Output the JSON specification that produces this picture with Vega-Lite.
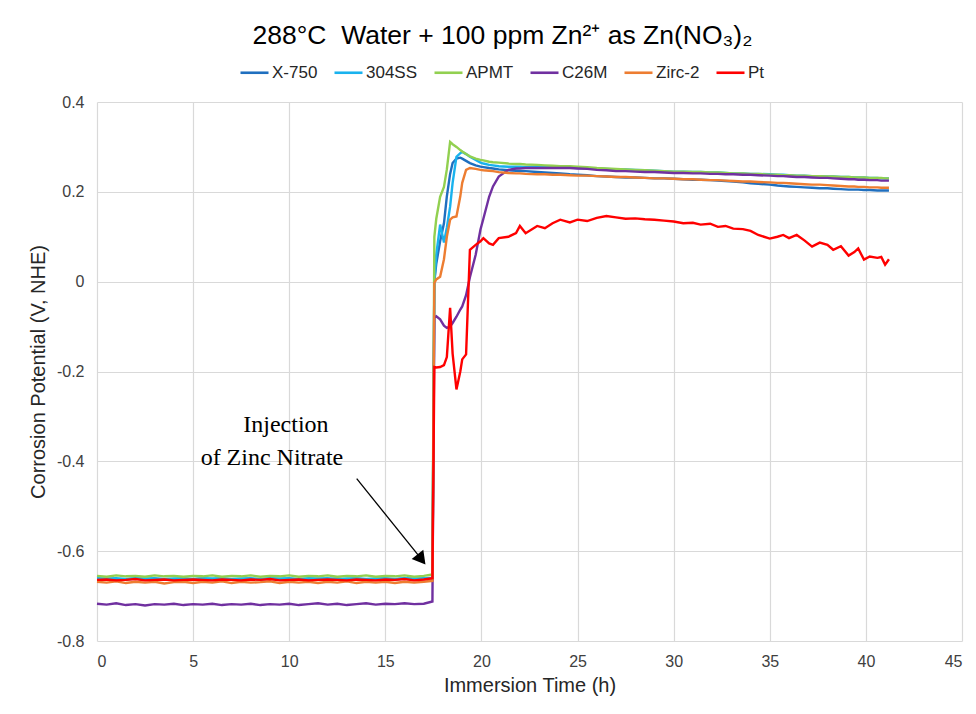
{
  "$schema": "https://vega.github.io/schema/vega-lite/v6.json",
  "width": 865,
  "height": 539,
  "autosize": {"type": "none"},
  "padding": {"left": 97, "top": 102, "right": 14, "bottom": 73},
  "background": "white",
  "title": {
    "text": "288°C\u00a0\u00a0Water + 100 ppm Zn²⁺ as Zn(NO₃)₂",
    "font": "Liberation Sans",
    "fontSize": 26.5,
    "fontWeight": "normal",
    "color": "#000000",
    "anchor": "middle",
    "frame": "group",
    "dx": -27,
    "offset": 8
  },
  "config": {
    "view": {"stroke": null},
    "axis": {
      "labelFont": "Liberation Sans",
      "titleFont": "Liberation Sans",
      "labelFontSize": 16,
      "titleFontSize": 20,
      "titleFontWeight": "normal",
      "labelColor": "#404040",
      "titleColor": "#262626",
      "gridColor": "#D9D9D9",
      "gridWidth": 1.2,
      "domain": false,
      "ticks": false
    }
  },
  "layer": [
    {
      "data": {
        "values": [
          {"t": 0, "X-750": -0.663, "304SS": -0.660, "APMT": -0.655, "C26M": -0.717, "Zirc-2": -0.668, "Pt": -0.664},
          {"t": 0.5, "X-750": -0.662, "304SS": -0.661, "APMT": -0.657, "C26M": -0.719, "Zirc-2": -0.670, "Pt": -0.663},
          {"t": 1.0, "X-750": -0.664, "304SS": -0.660, "APMT": -0.654, "C26M": -0.716, "Zirc-2": -0.667, "Pt": -0.665},
          {"t": 1.5, "X-750": -0.663, "304SS": -0.662, "APMT": -0.656, "C26M": -0.720, "Zirc-2": -0.671, "Pt": -0.664},
          {"t": 2.0, "X-750": -0.661, "304SS": -0.660, "APMT": -0.655, "C26M": -0.718, "Zirc-2": -0.668, "Pt": -0.662},
          {"t": 2.5, "X-750": -0.664, "304SS": -0.661, "APMT": -0.657, "C26M": -0.721, "Zirc-2": -0.670, "Pt": -0.665},
          {"t": 3.0, "X-750": -0.662, "304SS": -0.660, "APMT": -0.654, "C26M": -0.718, "Zirc-2": -0.668, "Pt": -0.664},
          {"t": 3.5, "X-750": -0.663, "304SS": -0.662, "APMT": -0.656, "C26M": -0.719, "Zirc-2": -0.672, "Pt": -0.663},
          {"t": 4.0, "X-750": -0.664, "304SS": -0.661, "APMT": -0.655, "C26M": -0.717, "Zirc-2": -0.669, "Pt": -0.665},
          {"t": 4.5, "X-750": -0.662, "304SS": -0.660, "APMT": -0.657, "C26M": -0.720, "Zirc-2": -0.668, "Pt": -0.664},
          {"t": 5.0, "X-750": -0.663, "304SS": -0.662, "APMT": -0.655, "C26M": -0.718, "Zirc-2": -0.671, "Pt": -0.663},
          {"t": 5.5, "X-750": -0.661, "304SS": -0.660, "APMT": -0.656, "C26M": -0.719, "Zirc-2": -0.668, "Pt": -0.664},
          {"t": 6.0, "X-750": -0.664, "304SS": -0.661, "APMT": -0.654, "C26M": -0.717, "Zirc-2": -0.670, "Pt": -0.665},
          {"t": 6.5, "X-750": -0.662, "304SS": -0.660, "APMT": -0.657, "C26M": -0.720, "Zirc-2": -0.667, "Pt": -0.663},
          {"t": 7.0, "X-750": -0.663, "304SS": -0.662, "APMT": -0.655, "C26M": -0.718, "Zirc-2": -0.671, "Pt": -0.664},
          {"t": 7.5, "X-750": -0.664, "304SS": -0.661, "APMT": -0.656, "C26M": -0.719, "Zirc-2": -0.668, "Pt": -0.665},
          {"t": 8.0, "X-750": -0.662, "304SS": -0.660, "APMT": -0.654, "C26M": -0.717, "Zirc-2": -0.670, "Pt": -0.663},
          {"t": 8.5, "X-750": -0.663, "304SS": -0.662, "APMT": -0.657, "C26M": -0.720, "Zirc-2": -0.669, "Pt": -0.664},
          {"t": 9.0, "X-750": -0.661, "304SS": -0.660, "APMT": -0.655, "C26M": -0.718, "Zirc-2": -0.667, "Pt": -0.662},
          {"t": 9.5, "X-750": -0.664, "304SS": -0.661, "APMT": -0.656, "C26M": -0.719, "Zirc-2": -0.671, "Pt": -0.665},
          {"t": 10.0, "X-750": -0.662, "304SS": -0.660, "APMT": -0.654, "C26M": -0.717, "Zirc-2": -0.668, "Pt": -0.664},
          {"t": 10.5, "X-750": -0.663, "304SS": -0.662, "APMT": -0.657, "C26M": -0.720, "Zirc-2": -0.670, "Pt": -0.663},
          {"t": 11.0, "X-750": -0.664, "304SS": -0.660, "APMT": -0.655, "C26M": -0.718, "Zirc-2": -0.668, "Pt": -0.665},
          {"t": 11.5, "X-750": -0.662, "304SS": -0.661, "APMT": -0.656, "C26M": -0.716, "Zirc-2": -0.671, "Pt": -0.664},
          {"t": 12.0, "X-750": -0.663, "304SS": -0.660, "APMT": -0.654, "C26M": -0.719, "Zirc-2": -0.668, "Pt": -0.663},
          {"t": 12.5, "X-750": -0.661, "304SS": -0.662, "APMT": -0.657, "C26M": -0.717, "Zirc-2": -0.670, "Pt": -0.664},
          {"t": 13.0, "X-750": -0.664, "304SS": -0.661, "APMT": -0.655, "C26M": -0.720, "Zirc-2": -0.667, "Pt": -0.665},
          {"t": 13.5, "X-750": -0.662, "304SS": -0.660, "APMT": -0.656, "C26M": -0.718, "Zirc-2": -0.671, "Pt": -0.663},
          {"t": 14.0, "X-750": -0.663, "304SS": -0.662, "APMT": -0.654, "C26M": -0.716, "Zirc-2": -0.668, "Pt": -0.664},
          {"t": 14.5, "X-750": -0.664, "304SS": -0.661, "APMT": -0.657, "C26M": -0.719, "Zirc-2": -0.670, "Pt": -0.665},
          {"t": 15.0, "X-750": -0.662, "304SS": -0.660, "APMT": -0.655, "C26M": -0.717, "Zirc-2": -0.668, "Pt": -0.663},
          {"t": 15.5, "X-750": -0.663, "304SS": -0.662, "APMT": -0.656, "C26M": -0.718, "Zirc-2": -0.671, "Pt": -0.664},
          {"t": 16.0, "X-750": -0.661, "304SS": -0.660, "APMT": -0.654, "C26M": -0.716, "Zirc-2": -0.668, "Pt": -0.662},
          {"t": 16.5, "X-750": -0.664, "304SS": -0.661, "APMT": -0.657, "C26M": -0.718, "Zirc-2": -0.670, "Pt": -0.665},
          {"t": 17.0, "X-750": -0.662, "304SS": -0.660, "APMT": -0.655, "C26M": -0.717, "Zirc-2": -0.668, "Pt": -0.663},
          {"t": 17.45, "X-750": -0.660, "304SS": -0.659, "APMT": -0.652, "C26M": -0.712, "Zirc-2": -0.666, "Pt": -0.660},
          {"t": 17.55, "X-750": 0.000, "304SS": 0.000, "APMT": 0.100, "C26M": -0.080, "Zirc-2": -0.003, "Pt": -0.190},
          {"t": 17.65, "X-750": 0.040, "304SS": 0.060, "APMT": 0.140, "C26M": -0.077, "Zirc-2": 0.005, "Pt": -0.191},
          {"t": 17.85, "X-750": 0.090, "304SS": 0.127, "APMT": 0.189, "C26M": -0.084, "Zirc-2": 0.011, "Pt": -0.190},
          {"t": 18.05, "X-750": 0.130, "304SS": 0.087, "APMT": 0.211, "C26M": -0.098, "Zirc-2": 0.050, "Pt": -0.186},
          {"t": 18.2, "X-750": 0.190, "304SS": 0.120, "APMT": 0.250, "C26M": -0.103, "Zirc-2": 0.100, "Pt": -0.168},
          {"t": 18.37, "X-750": 0.240, "304SS": 0.167, "APMT": 0.311, "C26M": -0.100, "Zirc-2": 0.138, "Pt": -0.058},
          {"t": 18.5, "X-750": 0.264, "304SS": 0.220, "APMT": 0.306, "C26M": -0.092, "Zirc-2": 0.143, "Pt": -0.160},
          {"t": 18.7, "X-750": 0.274, "304SS": 0.278, "APMT": 0.300, "C26M": -0.078, "Zirc-2": 0.145, "Pt": -0.240},
          {"t": 18.9, "X-750": 0.276, "304SS": 0.286, "APMT": 0.293, "C26M": -0.062, "Zirc-2": 0.190, "Pt": -0.200},
          {"t": 19.0, "X-750": 0.274, "304SS": 0.289, "APMT": 0.290, "C26M": -0.055, "Zirc-2": 0.220, "Pt": -0.173},
          {"t": 19.2, "X-750": 0.269, "304SS": 0.284, "APMT": 0.284, "C26M": -0.030, "Zirc-2": 0.249, "Pt": -0.162},
          {"t": 19.4, "X-750": 0.264, "304SS": 0.278, "APMT": 0.279, "C26M": 0.010, "Zirc-2": 0.253, "Pt": 0.071},
          {"t": 19.7, "X-750": 0.259, "304SS": 0.271, "APMT": 0.274, "C26M": 0.060, "Zirc-2": 0.251, "Pt": 0.082},
          {"t": 19.95, "X-750": 0.256, "304SS": 0.265, "APMT": 0.271, "C26M": 0.116, "Zirc-2": 0.249, "Pt": 0.090},
          {"t": 20.1, "X-750": 0.255, "304SS": 0.263, "APMT": 0.270, "C26M": 0.140, "Zirc-2": 0.248, "Pt": 0.097},
          {"t": 20.4, "X-750": 0.253, "304SS": 0.260, "APMT": 0.267, "C26M": 0.189, "Zirc-2": 0.247, "Pt": 0.085},
          {"t": 20.6, "X-750": 0.252, "304SS": 0.259, "APMT": 0.266, "C26M": 0.212, "Zirc-2": 0.246, "Pt": 0.082},
          {"t": 20.9, "X-750": 0.250, "304SS": 0.257, "APMT": 0.265, "C26M": 0.234, "Zirc-2": 0.244, "Pt": 0.097},
          {"t": 21.4, "X-750": 0.248, "304SS": 0.256, "APMT": 0.263, "C26M": 0.249, "Zirc-2": 0.242, "Pt": 0.100},
          {"t": 21.8, "X-750": 0.247, "304SS": 0.256, "APMT": 0.262, "C26M": 0.252, "Zirc-2": 0.241, "Pt": 0.108},
          {"t": 22.0, "X-750": 0.246, "304SS": 0.256, "APMT": 0.262, "C26M": 0.252, "Zirc-2": 0.241, "Pt": 0.124},
          {"t": 22.3, "X-750": 0.246, "304SS": 0.255, "APMT": 0.261, "C26M": 0.253, "Zirc-2": 0.240, "Pt": 0.108},
          {"t": 22.9, "X-750": 0.244, "304SS": 0.256, "APMT": 0.260, "C26M": 0.253, "Zirc-2": 0.239, "Pt": 0.124},
          {"t": 23.3, "X-750": 0.243, "304SS": 0.255, "APMT": 0.259, "C26M": 0.253, "Zirc-2": 0.239, "Pt": 0.119},
          {"t": 23.7, "X-750": 0.242, "304SS": 0.255, "APMT": 0.258, "C26M": 0.253, "Zirc-2": 0.238, "Pt": 0.130},
          {"t": 24.1, "X-750": 0.241, "304SS": 0.254, "APMT": 0.257, "C26M": 0.253, "Zirc-2": 0.238, "Pt": 0.138},
          {"t": 24.6, "X-750": 0.239, "304SS": 0.254, "APMT": 0.257, "C26M": 0.253, "Zirc-2": 0.237, "Pt": 0.132},
          {"t": 25.0, "X-750": 0.238, "304SS": 0.253, "APMT": 0.256, "C26M": 0.252, "Zirc-2": 0.236, "Pt": 0.138},
          {"t": 25.5, "X-750": 0.237, "304SS": 0.253, "APMT": 0.255, "C26M": 0.251, "Zirc-2": 0.236, "Pt": 0.135},
          {"t": 26.0, "X-750": 0.235, "304SS": 0.252, "APMT": 0.253, "C26M": 0.249, "Zirc-2": 0.235, "Pt": 0.142},
          {"t": 26.5, "X-750": 0.234, "304SS": 0.251, "APMT": 0.252, "C26M": 0.248, "Zirc-2": 0.234, "Pt": 0.146},
          {"t": 27.0, "X-750": 0.233, "304SS": 0.250, "APMT": 0.251, "C26M": 0.246, "Zirc-2": 0.233, "Pt": 0.143},
          {"t": 27.5, "X-750": 0.232, "304SS": 0.250, "APMT": 0.250, "C26M": 0.246, "Zirc-2": 0.233, "Pt": 0.140},
          {"t": 28.0, "X-750": 0.232, "304SS": 0.249, "APMT": 0.249, "C26M": 0.245, "Zirc-2": 0.232, "Pt": 0.141},
          {"t": 28.5, "X-750": 0.231, "304SS": 0.248, "APMT": 0.248, "C26M": 0.244, "Zirc-2": 0.231, "Pt": 0.139},
          {"t": 29.0, "X-750": 0.230, "304SS": 0.247, "APMT": 0.247, "C26M": 0.244, "Zirc-2": 0.230, "Pt": 0.138},
          {"t": 29.5, "X-750": 0.230, "304SS": 0.246, "APMT": 0.246, "C26M": 0.243, "Zirc-2": 0.230, "Pt": 0.136},
          {"t": 30.0, "X-750": 0.229, "304SS": 0.245, "APMT": 0.245, "C26M": 0.242, "Zirc-2": 0.229, "Pt": 0.134},
          {"t": 30.5, "X-750": 0.228, "304SS": 0.245, "APMT": 0.245, "C26M": 0.242, "Zirc-2": 0.228, "Pt": 0.130},
          {"t": 31.0, "X-750": 0.227, "304SS": 0.244, "APMT": 0.244, "C26M": 0.241, "Zirc-2": 0.228, "Pt": 0.131},
          {"t": 31.4, "X-750": 0.227, "304SS": 0.244, "APMT": 0.244, "C26M": 0.241, "Zirc-2": 0.227, "Pt": 0.127},
          {"t": 31.9, "X-750": 0.226, "304SS": 0.243, "APMT": 0.243, "C26M": 0.240, "Zirc-2": 0.226, "Pt": 0.129},
          {"t": 32.3, "X-750": 0.225, "304SS": 0.243, "APMT": 0.243, "C26M": 0.240, "Zirc-2": 0.226, "Pt": 0.122},
          {"t": 32.7, "X-750": 0.224, "304SS": 0.242, "APMT": 0.242, "C26M": 0.239, "Zirc-2": 0.225, "Pt": 0.124},
          {"t": 33.1, "X-750": 0.223, "304SS": 0.241, "APMT": 0.241, "C26M": 0.239, "Zirc-2": 0.224, "Pt": 0.118},
          {"t": 33.6, "X-750": 0.221, "304SS": 0.241, "APMT": 0.241, "C26M": 0.238, "Zirc-2": 0.223, "Pt": 0.117},
          {"t": 34.0, "X-750": 0.219, "304SS": 0.240, "APMT": 0.240, "C26M": 0.238, "Zirc-2": 0.223, "Pt": 0.113},
          {"t": 34.4, "X-750": 0.218, "304SS": 0.240, "APMT": 0.240, "C26M": 0.237, "Zirc-2": 0.222, "Pt": 0.104},
          {"t": 35.0, "X-750": 0.216, "304SS": 0.239, "APMT": 0.238, "C26M": 0.236, "Zirc-2": 0.221, "Pt": 0.096},
          {"t": 35.4, "X-750": 0.214, "304SS": 0.238, "APMT": 0.238, "C26M": 0.235, "Zirc-2": 0.220, "Pt": 0.100},
          {"t": 35.7, "X-750": 0.213, "304SS": 0.238, "APMT": 0.237, "C26M": 0.235, "Zirc-2": 0.220, "Pt": 0.104},
          {"t": 36.0, "X-750": 0.212, "304SS": 0.237, "APMT": 0.237, "C26M": 0.234, "Zirc-2": 0.219, "Pt": 0.097},
          {"t": 36.4, "X-750": 0.211, "304SS": 0.236, "APMT": 0.236, "C26M": 0.233, "Zirc-2": 0.218, "Pt": 0.104},
          {"t": 36.8, "X-750": 0.210, "304SS": 0.236, "APMT": 0.236, "C26M": 0.233, "Zirc-2": 0.217, "Pt": 0.092},
          {"t": 37.2, "X-750": 0.209, "304SS": 0.235, "APMT": 0.235, "C26M": 0.232, "Zirc-2": 0.216, "Pt": 0.078},
          {"t": 37.6, "X-750": 0.208, "304SS": 0.235, "APMT": 0.235, "C26M": 0.231, "Zirc-2": 0.216, "Pt": 0.087},
          {"t": 38.0, "X-750": 0.208, "304SS": 0.234, "APMT": 0.234, "C26M": 0.231, "Zirc-2": 0.215, "Pt": 0.082},
          {"t": 38.3, "X-750": 0.207, "304SS": 0.234, "APMT": 0.234, "C26M": 0.230, "Zirc-2": 0.214, "Pt": 0.071},
          {"t": 38.7, "X-750": 0.206, "304SS": 0.233, "APMT": 0.233, "C26M": 0.229, "Zirc-2": 0.213, "Pt": 0.079},
          {"t": 39.1, "X-750": 0.205, "304SS": 0.233, "APMT": 0.233, "C26M": 0.228, "Zirc-2": 0.212, "Pt": 0.058},
          {"t": 39.4, "X-750": 0.205, "304SS": 0.232, "APMT": 0.232, "C26M": 0.228, "Zirc-2": 0.212, "Pt": 0.066},
          {"t": 39.6, "X-750": 0.205, "304SS": 0.232, "APMT": 0.232, "C26M": 0.227, "Zirc-2": 0.211, "Pt": 0.074},
          {"t": 39.9, "X-750": 0.204, "304SS": 0.232, "APMT": 0.232, "C26M": 0.227, "Zirc-2": 0.211, "Pt": 0.049},
          {"t": 40.2, "X-750": 0.204, "304SS": 0.231, "APMT": 0.231, "C26M": 0.226, "Zirc-2": 0.210, "Pt": 0.056},
          {"t": 40.6, "X-750": 0.203, "304SS": 0.231, "APMT": 0.231, "C26M": 0.226, "Zirc-2": 0.210, "Pt": 0.053},
          {"t": 40.8, "X-750": 0.203, "304SS": 0.230, "APMT": 0.231, "C26M": 0.225, "Zirc-2": 0.209, "Pt": 0.055},
          {"t": 41.0, "X-750": 0.203, "304SS": 0.230, "APMT": 0.230, "C26M": 0.225, "Zirc-2": 0.209, "Pt": 0.038},
          {"t": 41.2, "X-750": 0.203, "304SS": 0.230, "APMT": 0.230, "C26M": 0.225, "Zirc-2": 0.209, "Pt": 0.050}
        ]
      },
      "transform": [
        {"fold": ["X-750", "304SS", "APMT", "C26M", "Zirc-2", "Pt"], "as": ["series", "v"]}
      ],
      "mark": {"type": "line", "strokeWidth": 2.4, "interpolate": "linear"},
      "encoding": {
        "x": {
          "field": "t",
          "type": "quantitative",
          "scale": {"domain": [0, 45], "nice": false, "zero": false},
          "axis": {
            "title": "Immersion Time (h)",
            "values": [0, 5, 10, 15, 20, 25, 30, 35, 40, 45],
            "labelPadding": 12,
            "titlePadding": 6
          }
        },
        "y": {
          "field": "v",
          "type": "quantitative",
          "scale": {"domain": [-0.8, 0.4], "nice": false, "zero": false},
          "axis": {
            "title": "Corrosion Potential (V, NHE)",
            "values": [-0.8, -0.6, -0.4, -0.2, 0, 0.2, 0.4],
            "labelExpr": "replace(format(datum.value, '.1~f'), '−', '-')",
            "labelPadding": 13,
            "titlePadding": 8
          }
        },
        "color": {
          "field": "series",
          "type": "nominal",
          "scale": {
            "domain": ["X-750", "304SS", "APMT", "C26M", "Zirc-2", "Pt"],
            "range": ["#1F6FBF", "#19B2EE", "#92D050", "#7030A0", "#ED7D31", "#FF0000"]
          },
          "legend": {
            "title": null,
            "orient": "none",
            "direction": "horizontal",
            "columns": 6,
            "legendX": 142,
            "legendY": -45,
            "symbolType": "stroke",
            "symbolSize": 784,
            "symbolStrokeWidth": 2.6,
            "labelFont": "Liberation Sans",
            "labelFontSize": 17,
            "labelColor": "#262626",
            "labelOffset": 2,
            "columnPadding": 11
          }
        },
        "order": {"field": "t", "type": "quantitative"}
      }
    },
    {
      "data": {
        "values": [
          {"t": 9.83, "v": -0.3356, "label": "Injection"},
          {"t": 9.1, "v": -0.409, "label": "of Zinc Nitrate"}
        ]
      },
      "mark": {"type": "text", "font": "Liberation Serif", "fontSize": 24, "align": "center", "baseline": "alphabetic", "color": "#000000"},
      "encoding": {
        "x": {"field": "t", "type": "quantitative"},
        "y": {"field": "v", "type": "quantitative"},
        "text": {"field": "label"}
      }
    },
    {
      "data": {"values": [{"t": 13.51, "v": -0.4384, "t2": 16.9, "v2": -0.619}]},
      "mark": {"type": "rule", "color": "#000000", "strokeWidth": 1.3},
      "encoding": {
        "x": {"field": "t", "type": "quantitative"},
        "y": {"field": "v", "type": "quantitative"},
        "x2": {"field": "t2"},
        "y2": {"field": "v2"}
      }
    },
    {
      "data": {"values": [{"t": 16.88, "v": -0.6182}]},
      "mark": {"type": "point", "shape": "triangle-up", "size": 220, "angle": 141.6, "filled": true, "color": "#000000", "opacity": 1},
      "encoding": {
        "x": {"field": "t", "type": "quantitative"},
        "y": {"field": "v", "type": "quantitative"}
      }
    }
  ]
}
